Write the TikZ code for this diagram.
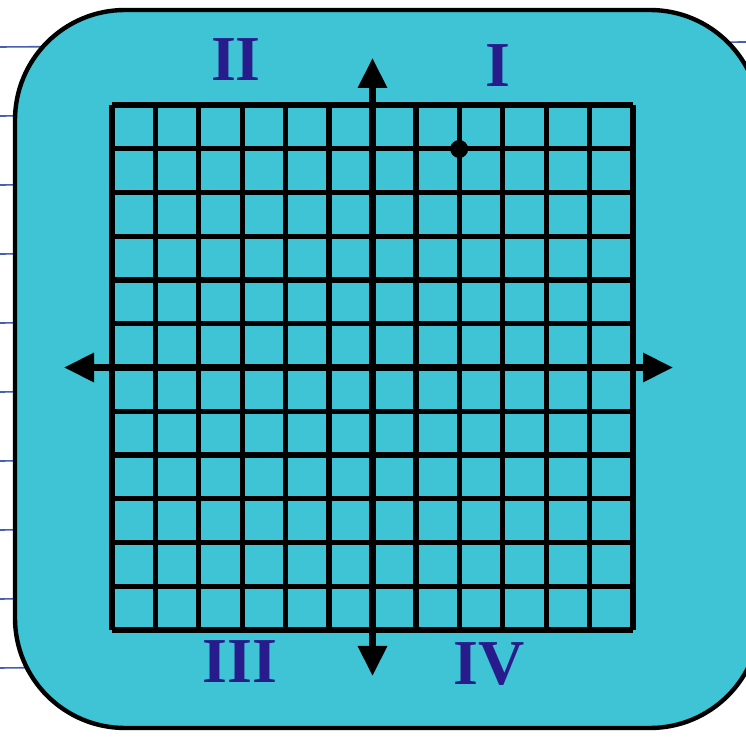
\documentclass[tikz,border=0pt]{standalone}
\usepackage{fontspec}
\setmainfont{Liberation Serif}
\usetikzlibrary{arrows.meta}
\definecolor{card}{RGB}{62,196,212}
\definecolor{ink}{RGB}{40,28,140}
\definecolor{ruleline}{RGB}{70,95,175}
\begin{document}
\begin{tikzpicture}[x=0.5pt,y=-0.5pt,
  gridline/.style={line width=2.6pt, black},
  axisline/.style={line width=3.2pt, black, {Triangle[length=15pt,width=14pt]}-{Triangle[length=15pt,width=14pt]}},
  numeral/.style={ink, font=\fontsize{32}{32}\selectfont\bfseries, inner sep=0pt},
  cardshape/.style={fill=card, draw=black, line width=2.2pt, rounded corners=55pt}]
\useasboundingbox (0,0) rectangle (746,737);
\fill[white] (0,0) rectangle (746,737);
% ruled paper lines
\foreach \k in {0,...,9}
  \draw[ruleline, line width=0.8pt] (0,{47+\k*69}) -- (746,{42+\k*68.7});
% card
\draw[cardshape] (15,10) rectangle (760,728);
% grid
\foreach \i in {0,...,12} {
  \draw[gridline] ({112+\i*521/12},105) -- ({112+\i*521/12},630);
  \draw[gridline] (112,{105+\i*525/12}) -- (633,{105+\i*525/12});
}
% axes
\coordinate (yt) at (372.5,58);
\coordinate (yb) at (372.5,676);
\coordinate (xl) at (64,367.5);
\coordinate (xr) at (673,367.5);
\draw[axisline] (yb) -- (yt);
\draw[axisline] (xl) -- (xr);
% point
\node[circle, fill=black, minimum size=9pt, inner sep=0pt] (pt) at (459.2,149) {};
% quadrant labels
\node[numeral] (q2) at (236,60) {II};
\node[numeral] (q1) at (498,66) {I};
\node[numeral] (q3) at (240,662) {III};
\node[numeral] (q4) at (489,664) {IV};
\end{tikzpicture}
\end{document}
